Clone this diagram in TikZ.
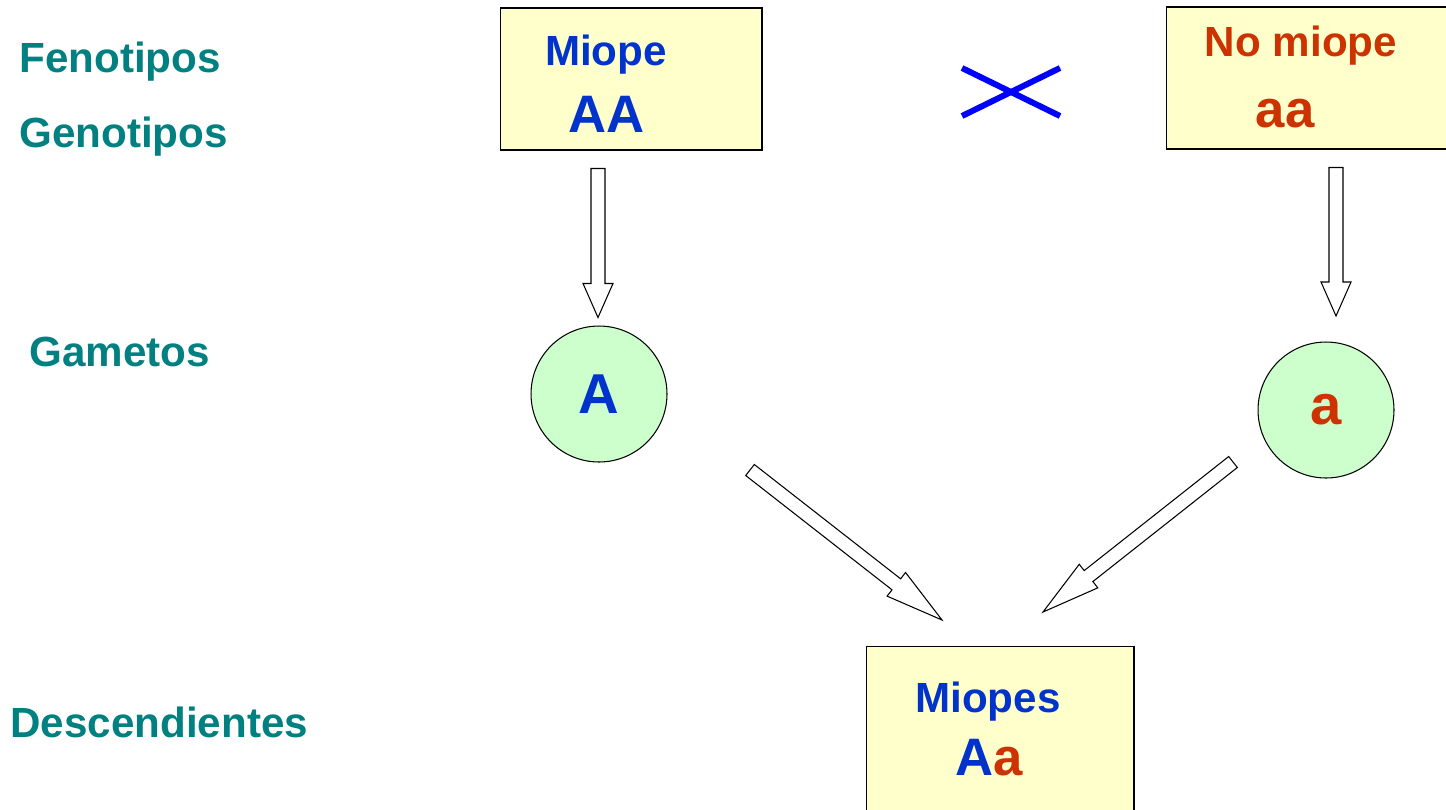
\documentclass[tikz,border=0pt]{standalone}
\usepackage{fontspec}
\setmainfont{Liberation Sans}
\usetikzlibrary{calc}

\definecolor{rowteal}{RGB}{0,128,128}
\definecolor{miopeblue}{RGB}{0,51,204}
\definecolor{normalred}{RGB}{204,51,0}
\definecolor{boxyellow}{RGB}{255,255,204}
\definecolor{gamgreen}{RGB}{204,255,204}

% hollow block arrow: tail, tip, head length
\newcommand\blockarrow[3]{%
  \coordinate (hb) at ($(#2)!#3!(#1)$);
  \draw[blockline] ($(#1)!0.14cm!90:(#2)$) -- ($(hb)!0.14cm!90:(#2)$) -- ($(hb)!0.3cm!90:(#2)$) -- (#2)
    -- ($(hb)!0.3cm!-90:(#2)$) -- ($(hb)!0.14cm!-90:(#2)$) -- ($(#1)!0.14cm!-90:(#2)$) -- cycle;
}

\begin{document}
\begin{tikzpicture}[
    x=0.02cm, y=-0.02cm,
    rowname/.style={anchor=base west, inner sep=0pt, text=rowteal, font=\fontsize{24}{28}\selectfont\bfseries},
    phenobox/.style={rectangle, draw, fill=boxyellow, line width=0.6pt},
    gamete/.style={circle, draw, fill=gamgreen, minimum size=2.72cm, inner sep=0pt, line width=0.6pt, font=\fontsize{32}{36}\selectfont\bfseries},
    phenotxt/.style={anchor=base, inner sep=0pt, font=\fontsize{24}{28}\selectfont\bfseries},
    genotxt/.style={anchor=base, inner sep=0pt, font=\fontsize{30}{34}\selectfont\bfseries},
    blockline/.style={draw, fill=white, line width=0.6pt, line join=miter}
]
\clip (0,0) rectangle (1446,809);

% Row names
\node (feno) [rowname] at (19,72) {Fenotipos};
\node (geno) [rowname] at (19,147) {Genotipos};
\node (game) [rowname] at (29,366) {Gametos};
\node (desc) [rowname] at (10,737) {Descendientes};

% Parents
\node (p1) [phenobox, minimum width=5.24cm, minimum height=2.84cm] at (631,79) {};
\node (p1feno) [phenotxt, text=miopeblue] at (606,65) {Miope};
\node (p1geno) [genotxt, text=miopeblue] at (607,132) {AA};

\node (p2) [phenobox, minimum width=6.08cm, minimum height=2.84cm] at (1318,78) {};
\node (p2feno) [phenotxt, text=normalred] at (1301,56) {No miope};
\node (p2geno) [genotxt, text=normalred] at (1285,127) {aa};

% Cross
\draw [blue, line width=3.4pt] (962,68) -- (1060,116);
\draw [blue, line width=3.4pt] (962,116) -- (1060,68);

% Gametes
\node (g1) [gamete, text=miopeblue] at (599,394) {A};
\node (g2) [gamete, text=normalred] at (1326,410) {a};

% Offspring
\node (f1) [phenobox, minimum width=5.36cm, minimum height=3.66cm] at (1000,738) {};
\node (f1feno) [phenotxt, text=miopeblue] at (988,712) {Miopes};
\node (f1geno) [genotxt] at (989,775) {\textcolor{miopeblue}{A}\textcolor{normalred}{a}};

% Arrows
\coordinate (t1) at ($(p1.south)+(-33,18)$);
\coordinate (h1) at ($(g1.north)+(-1,-8)$);
\coordinate (t2) at ($(p2.south)+(18,18)$);
\coordinate (h2) at (1336,316);
\coordinate (t3) at (750,470);
\coordinate (h3) at (942,620);
\coordinate (t4) at (1233,462);
\coordinate (h4) at (1043,612);

\blockarrow{t1}{h1}{0.68cm}
\blockarrow{t2}{h2}{0.68cm}
\blockarrow{t3}{h3}{1.16cm}
\blockarrow{t4}{h4}{1.16cm}

\end{tikzpicture}
\end{document}
